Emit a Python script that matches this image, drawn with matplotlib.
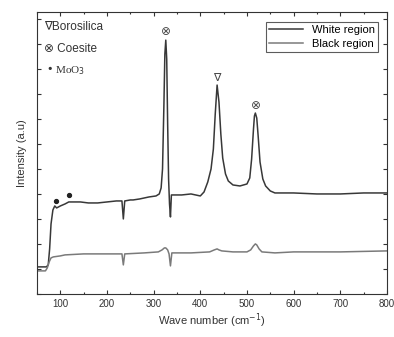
import matplotlib
matplotlib.use("Agg")
from matplotlib import pyplot as plt
from matplotlib.ticker import MultipleLocator, NullFormatter

plt.rcParams['font.family'] = ['Liberation Sans', 'DejaVu Sans']

# white region spectrum (wavenumber, intensity a.u.)
white_x = [50, 60, 70, 74, 77, 80, 84, 88, 92, 100, 110, 118, 125, 143, 160, 180, 200,
           220, 232, 235, 238, 250, 256, 270, 290, 305, 312, 316, 319, 322, 324, 326,
           328, 330, 332, 334, 336, 338, 345, 360, 380, 400, 408, 416, 423, 428, 432,
           436, 440, 444, 448, 454, 460, 470, 485, 500, 506, 510, 514, 516, 518, 521,
           524, 528, 534, 540, 550, 560, 600, 650, 700, 750, 800]
white_y = [27, 27, 27, 29, 45, 70, 84, 88, 86, 88, 90, 92, 92, 92, 91, 91, 92,
           93, 93, 75, 93, 94, 94, 95, 97, 98, 100, 106, 125, 190, 240, 254,
           235, 170, 115, 90, 77, 99, 99, 99, 100, 98, 102, 112, 125, 145, 180,
           209, 192, 160, 136, 120, 113, 109, 108, 110, 116, 135, 165, 178, 181, 176,
           158, 132, 115, 108, 103, 101, 101, 100, 100, 101, 101]

# black region spectrum
black_x = [50, 60, 68, 72, 76, 80, 85, 100, 110, 150, 200, 232, 235, 238, 280, 310, 318, 323,
           326, 330, 333, 336, 339, 380, 420, 430, 436, 440, 446, 470, 500, 508, 514,
           518, 521, 526, 532, 560, 600, 700, 800]
black_y = [23, 23, 23, 26, 32, 36, 37, 38, 39, 40, 40, 40, 29, 40, 41, 42, 44, 46,
           46, 44, 40, 28, 41, 41, 42, 44, 45, 44, 43, 42, 42, 44, 48,
           50, 49, 45, 42, 41, 42, 42, 43]

# peak labels
coesite_x = [325, 518]
coesite_y = [263, 189]
boro_x = [436]
boro_y = [216]
moo3_x = [90, 118]
moo3_y = [93, 99]

fig = plt.figure(figsize=(3.94, 3.37), dpi=100)
ax = fig.add_axes([0.094, 0.128, 0.888, 0.836])

ax.plot(white_x, white_y, color='#383838', lw=1.1, label='White region')
ax.plot(black_x, black_y, color='#7a7a7a', lw=1.1, label='Black region')

for x, y in zip(coesite_x, coesite_y):
    ax.text(x, y, '\u2297', ha='center', va='center', fontsize=8.5,
            family='DejaVu Sans', color='#444444')
for x, y in zip(boro_x, boro_y):
    ax.text(x, y, '\u2207', ha='center', va='center', fontsize=8,
            family='DejaVu Sans', color='#444444')
ax.plot(moo3_x, moo3_y, 'o', color='#222222', ms=2.8)

ax.text(0.02, 0.935, '\u2207Borosilica', transform=ax.transAxes, fontsize=8.5,
        family=['Liberation Sans', 'DejaVu Sans'], color='#333333')
ax.text(0.02, 0.86, '\u2297 Coesite', transform=ax.transAxes, fontsize=8.5,
        family=['Liberation Sans', 'DejaVu Sans'], color='#333333')
ax.text(0.025, 0.785, '\u2022 MoO$_3$', transform=ax.transAxes, fontsize=8,
        family=['Liberation Serif', 'DejaVu Serif'], color='#333333')

ax.set_xlim(50, 800)
ax.set_ylim(0, 282)
ax.xaxis.set_major_locator(MultipleLocator(100))
ax.xaxis.set_minor_locator(MultipleLocator(50))
ax.yaxis.set_major_locator(MultipleLocator(25))
ax.yaxis.set_major_formatter(NullFormatter())
ax.tick_params(direction='in', top=True, right=True, which='both', labelsize=7,
               length=3, width=0.8, colors='#333333')
ax.tick_params(which='minor', length=1.5)
for s in ax.spines.values():
    s.set_color('#333333')

ax.set_xlabel('Wave number (cm$^{-1}$)', fontsize=8, labelpad=2, color='#333333')
ax.set_ylabel('Intensity (a.u)', fontsize=8, labelpad=4, color='#333333')

leg = ax.legend(loc='upper right', fontsize=8, fancybox=False, edgecolor='#333333',
                handlelength=3, borderpad=0.3, labelspacing=0.3,
                bbox_to_anchor=(0.99, 0.985))
leg.get_frame().set_linewidth(0.8)

fig.savefig('out.png', dpi=100)
